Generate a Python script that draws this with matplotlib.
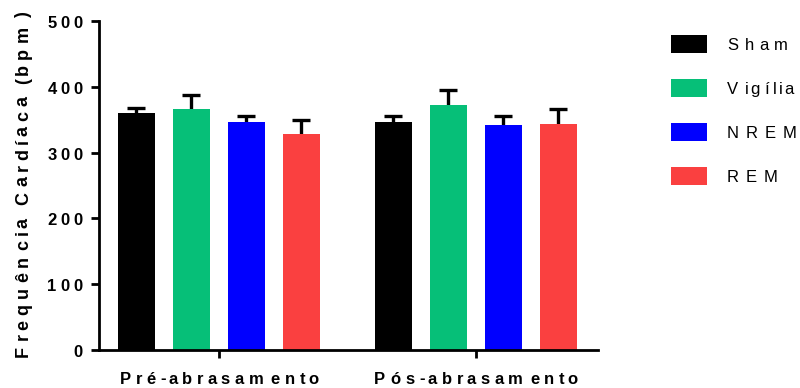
import numpy as np
import matplotlib
matplotlib.use('Agg')
import matplotlib.pyplot as plt
from matplotlib.patches import Rectangle
from matplotlib.font_manager import FontProperties
from matplotlib.transforms import IdentityTransform

FAMILIA = ['Liberation Sans', 'DejaVu Sans']
plt.rcParams['font.family'] = FAMILIA

# frequência cardíaca média (bpm) e erro padrão por grupo
grupos = ['Pré-abrasamento', 'Pós-abrasamento']
series = ['Sham', 'Vigília', 'NREM', 'REM']
cores = ['#000000', '#06BF78', '#0000FF', '#FA4040']
media_pre = [360, 366, 347, 329]
erro_pre = [8, 21, 8, 20]
media_pos = [346, 372, 342, 343]
erro_pos = [10, 23, 14, 23]
yticks = [0, 100, 200, 300, 400, 500]

medias = np.array([media_pre, media_pos])
erros = np.array([erro_pre, erro_pos])

fig = plt.figure(figsize=(8, 3.88), dpi=100)
ax = fig.add_axes([99 / 800, 1 - 350 / 388, 499 / 800, 329 / 388])
renderer = fig.canvas.get_renderer()


def largura_char(c, prop):
    # avanço de cada caractere, medido entre dois 'x' para contar espaços
    w1 = renderer.get_text_width_height_descent('x' + c + 'x', prop, ismath=False)[0]
    w0 = renderer.get_text_width_height_descent('xx', prop, ismath=False)[0]
    return w1 - w0


def texto_espacado(x, y, s, fator, size, weight='normal', ha='center', vertical=False):
    """Escreve s com o avanço de cada letra multiplicado por fator (pixels)."""
    prop = FontProperties(family=FAMILIA, size=size, weight=weight)
    larguras = [largura_char(c, prop) for c in s]
    total = fator * sum(larguras[:-1]) + larguras[-1]
    pos = {'center': -total / 2, 'left': 0, 'right': -total}[ha]
    for c, w in zip(s, larguras):
        xy = (x, y + pos) if vertical else (x + pos, y)
        fig.text(xy[0], xy[1], c, transform=IdentityTransform(), fontproperties=prop,
                 rotation=90 if vertical else 0, rotation_mode='anchor',
                 ha='left', va='baseline')
        pos += w * fator


centros = np.array([0.0, 4.67])
largura = 0.67
for i, (serie, cor) in enumerate(zip(series, cores)):
    x = centros + (i - 1.5)
    ax.bar(x, medias[:, i], width=largura, color=cor, zorder=2)
    _, caps, _ = ax.errorbar(x, medias[:, i], yerr=[np.zeros(2), erros[:, i]], fmt='none',
                             ecolor='black', elinewidth=2.4, capsize=6.5, capthick=2.4,
                             zorder=1)
    caps[0].set_visible(False)

ax.set_xlim(-2.18, 6.89)
ax.set_ylim(0, 500)
ax.set_yticks(yticks)
ax.set_xticks(centros)
ax.set_xticklabels([])
ax.set_yticklabels([])

for s in ['top', 'right']:
    ax.spines[s].set_visible(False)
for s in ['left', 'bottom']:
    ax.spines[s].set_linewidth(2)
ax.tick_params(axis='both', width=2, length=6, direction='out')

# rótulos dos eixos com letras espaçadas
for xc, g in zip(centros, grupos):
    px, _ = ax.transData.transform((xc, 0))
    texto_espacado(px, 4.5, g, 1.5, 12, weight='bold')
for v in yticks:
    _, py = ax.transData.transform((0, v))
    texto_espacado(83, py - 7, str(v), 1.44, 12, weight='bold', ha='right')
_, y0 = ax.transData.transform((0, 0))
_, y1 = ax.transData.transform((0, 500))
texto_espacado(28, (y0 + y1) / 2 + 1, 'Frequência Cardíaca (bpm)', 1.5, 13,
               weight='bold', vertical=True)

# legenda
for k, (serie, cor) in enumerate(zip(series, cores)):
    cy = 388 - (44 + 44 * k)
    fig.patches.append(Rectangle((671, cy - 9), 36, 18, transform=IdentityTransform(),
                                 facecolor=cor, edgecolor='none'))
    texto_espacado(727, cy - 6, serie, 1.58, 12, ha='left')

fig.savefig('out.png', dpi=100)
